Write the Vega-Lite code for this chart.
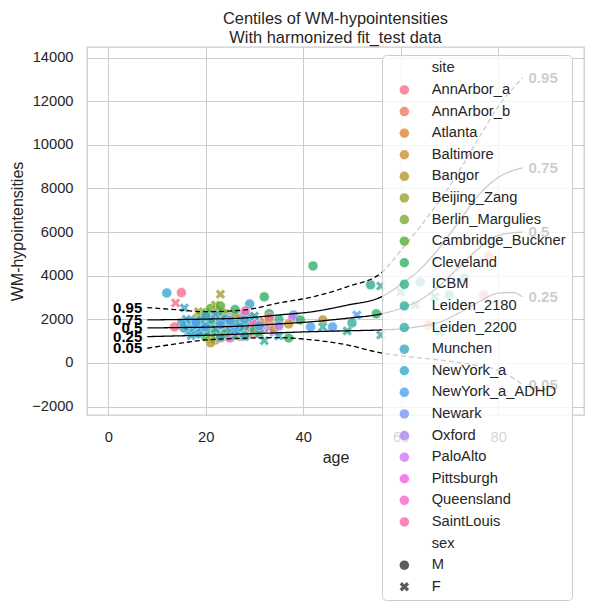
{
  "$schema": "https://vega.github.io/schema/vega-lite/v6.json",
  "autosize": {"type": "none"},
  "width": 497,
  "height": 368,
  "padding": {"left": 87, "top": 47, "right": 8, "bottom": 197},
  "background": "white",
  "title": {
    "text": ["Centiles of WM-hypointensities", "With harmonized fit_test data"],
    "font": "Liberation Sans",
    "fontSize": 16.4,
    "fontWeight": "normal",
    "color": "#262626",
    "anchor": "middle",
    "offset": 1,
    "lineHeight": 19
  },
  "config": {
    "view": {"stroke": "#cccccc", "strokeWidth": 1.3},
    "axis": {
      "grid": true,
      "gridColor": "#cccccc",
      "gridWidth": 1,
      "domain": false,
      "ticks": false,
      "labelPadding": 14,
      "labelFont": "Liberation Sans",
      "labelFontSize": 14.7,
      "labelColor": "#262626",
      "titleFont": "Liberation Sans",
      "titleFontSize": 16,
      "titleFontWeight": "normal",
      "titleColor": "#262626",
      "titlePadding": 6
    }
  },
  "datasets": {
    "curves": [
      {"q": "0.95", "age": 8, "wm": 2540}, {"q": "0.95", "age": 14, "wm": 2440}, {"q": "0.95", "age": 20, "wm": 2350},
      {"q": "0.95", "age": 28, "wm": 2430}, {"q": "0.95", "age": 35, "wm": 2750}, {"q": "0.95", "age": 42, "wm": 3030},
      {"q": "0.95", "age": 49, "wm": 3490}, {"q": "0.95", "age": 56, "wm": 4130}, {"q": "0.95", "age": 60, "wm": 5150},
      {"q": "0.95", "age": 64, "wm": 6250}, {"q": "0.95", "age": 68, "wm": 7450}, {"q": "0.95", "age": 72, "wm": 8800},
      {"q": "0.95", "age": 76, "wm": 10300}, {"q": "0.95", "age": 80, "wm": 11750}, {"q": "0.95", "age": 85, "wm": 13070},
      {"q": "0.75", "age": 8, "wm": 1970}, {"q": "0.75", "age": 14, "wm": 1990}, {"q": "0.75", "age": 20, "wm": 2010},
      {"q": "0.75", "age": 28, "wm": 2064}, {"q": "0.75", "age": 35, "wm": 2200}, {"q": "0.75", "age": 42, "wm": 2353},
      {"q": "0.75", "age": 49, "wm": 2650}, {"q": "0.75", "age": 56, "wm": 3030}, {"q": "0.75", "age": 60, "wm": 3600},
      {"q": "0.75", "age": 64, "wm": 4300}, {"q": "0.75", "age": 68, "wm": 5300}, {"q": "0.75", "age": 72, "wm": 6500},
      {"q": "0.75", "age": 76, "wm": 7700}, {"q": "0.75", "age": 80, "wm": 8500}, {"q": "0.75", "age": 85, "wm": 8945},
      {"q": "0.5", "age": 8, "wm": 1605}, {"q": "0.5", "age": 14, "wm": 1620}, {"q": "0.5", "age": 20, "wm": 1640},
      {"q": "0.5", "age": 28, "wm": 1697}, {"q": "0.5", "age": 35, "wm": 1790}, {"q": "0.5", "age": 42, "wm": 1894},
      {"q": "0.5", "age": 49, "wm": 2050}, {"q": "0.5", "age": 56, "wm": 2250}, {"q": "0.5", "age": 60, "wm": 2500},
      {"q": "0.5", "age": 64, "wm": 2890}, {"q": "0.5", "age": 68, "wm": 3550}, {"q": "0.5", "age": 72, "wm": 4400},
      {"q": "0.5", "age": 76, "wm": 5250}, {"q": "0.5", "age": 80, "wm": 5850}, {"q": "0.5", "age": 85, "wm": 6000},
      {"q": "0.25", "age": 8, "wm": 1206}, {"q": "0.25", "age": 14, "wm": 1240}, {"q": "0.25", "age": 20, "wm": 1270},
      {"q": "0.25", "age": 28, "wm": 1330}, {"q": "0.25", "age": 35, "wm": 1385}, {"q": "0.25", "age": 42, "wm": 1436},
      {"q": "0.25", "age": 49, "wm": 1475}, {"q": "0.25", "age": 56, "wm": 1514}, {"q": "0.25", "age": 60, "wm": 1560},
      {"q": "0.25", "age": 64, "wm": 1680}, {"q": "0.25", "age": 68, "wm": 1870}, {"q": "0.25", "age": 72, "wm": 2300},
      {"q": "0.25", "age": 76, "wm": 2800}, {"q": "0.25", "age": 80, "wm": 3200}, {"q": "0.25", "age": 83, "wm": 3230},
      {"q": "0.25", "age": 85, "wm": 3030},
      {"q": "0.05", "age": 8, "wm": 674}, {"q": "0.05", "age": 14, "wm": 880}, {"q": "0.05", "age": 20, "wm": 1055},
      {"q": "0.05", "age": 28, "wm": 1133}, {"q": "0.05", "age": 35, "wm": 1160}, {"q": "0.05", "age": 42, "wm": 1055},
      {"q": "0.05", "age": 49, "wm": 826}, {"q": "0.05", "age": 56, "wm": 459}, {"q": "0.05", "age": 60, "wm": 330},
      {"q": "0.05", "age": 64, "wm": 230}, {"q": "0.05", "age": 68, "wm": 138}, {"q": "0.05", "age": 72, "wm": 20},
      {"q": "0.05", "age": 76, "wm": -130}, {"q": "0.05", "age": 80, "wm": -330}, {"q": "0.05", "age": 82, "wm": -550},
      {"q": "0.05", "age": 85, "wm": -1000}
    ],
    "points": [
      {"age": 22, "wm": 1700, "site": "Pittsburgh", "sex": "M"},
      {"age": 23, "wm": 1900, "site": "Pittsburgh", "sex": "F"},
      {"age": 24, "wm": 1350, "site": "Pittsburgh", "sex": "F"},
      {"age": 25, "wm": 1600, "site": "Pittsburgh", "sex": "M"},
      {"age": 26, "wm": 2100, "site": "Pittsburgh", "sex": "F"},
      {"age": 27, "wm": 1450, "site": "Pittsburgh", "sex": "M"},
      {"age": 28, "wm": 1800, "site": "Pittsburgh", "sex": "M"},
      {"age": 23.5, "wm": 1200, "site": "Pittsburgh", "sex": "M"},
      {"age": 25.5, "wm": 1250, "site": "Pittsburgh", "sex": "F"},
      {"age": 27.5, "wm": 1650, "site": "Pittsburgh", "sex": "F"},
      {"age": 29, "wm": 1550, "site": "Pittsburgh", "sex": "M"},
      {"age": 24.5, "wm": 2050, "site": "Pittsburgh", "sex": "M"},
      {"age": 20, "wm": 1500, "site": "SaintLouis", "sex": "M"},
      {"age": 22, "wm": 2300, "site": "SaintLouis", "sex": "M"},
      {"age": 24, "wm": 1150, "site": "SaintLouis", "sex": "F"},
      {"age": 26, "wm": 2000, "site": "SaintLouis", "sex": "M"},
      {"age": 29, "wm": 1600, "site": "SaintLouis", "sex": "F"},
      {"age": 27, "wm": 2200, "site": "SaintLouis", "sex": "M"},
      {"age": 23, "wm": 1450, "site": "PaloAlto", "sex": "M"},
      {"age": 25, "wm": 1750, "site": "PaloAlto", "sex": "F"},
      {"age": 27, "wm": 1550, "site": "PaloAlto", "sex": "M"},
      {"age": 30, "wm": 1850, "site": "PaloAlto", "sex": "F"},
      {"age": 32, "wm": 1600, "site": "PaloAlto", "sex": "M"},
      {"age": 21, "wm": 1650, "site": "PaloAlto", "sex": "M"},
      {"age": 24, "wm": 1600, "site": "Oxford", "sex": "M"},
      {"age": 26, "wm": 1900, "site": "Oxford", "sex": "F"},
      {"age": 29, "wm": 1450, "site": "Oxford", "sex": "M"},
      {"age": 31, "wm": 1800, "site": "Oxford", "sex": "M"},
      {"age": 33, "wm": 1600, "site": "Oxford", "sex": "F"},
      {"age": 35, "wm": 1750, "site": "Oxford", "sex": "M"},
      {"age": 28, "wm": 2200, "site": "Oxford", "sex": "M"},
      {"age": 34, "wm": 1400, "site": "Oxford", "sex": "F"},
      {"age": 22, "wm": 1550, "site": "Newark", "sex": "M"},
      {"age": 24, "wm": 1850, "site": "Newark", "sex": "F"},
      {"age": 25, "wm": 1300, "site": "Newark", "sex": "M"},
      {"age": 27, "wm": 2050, "site": "Newark", "sex": "M"},
      {"age": 23, "wm": 1700, "site": "Newark", "sex": "M"},
      {"age": 17, "wm": 1850, "site": "AnnArbor_a", "sex": "M"},
      {"age": 18, "wm": 1450, "site": "AnnArbor_a", "sex": "F"},
      {"age": 19, "wm": 2100, "site": "AnnArbor_a", "sex": "M"},
      {"age": 21, "wm": 1600, "site": "AnnArbor_a", "sex": "M"},
      {"age": 26, "wm": 1500, "site": "AnnArbor_a", "sex": "F"},
      {"age": 23, "wm": 1600, "site": "AnnArbor_b", "sex": "M"},
      {"age": 25, "wm": 2200, "site": "AnnArbor_b", "sex": "F"},
      {"age": 28, "wm": 1400, "site": "AnnArbor_b", "sex": "M"},
      {"age": 30, "wm": 1950, "site": "AnnArbor_b", "sex": "M"},
      {"age": 31, "wm": 1600, "site": "AnnArbor_b", "sex": "F"},
      {"age": 24, "wm": 1750, "site": "Atlanta", "sex": "M"},
      {"age": 27, "wm": 2050, "site": "Atlanta", "sex": "F"},
      {"age": 30, "wm": 1650, "site": "Atlanta", "sex": "M"},
      {"age": 32, "wm": 1900, "site": "Atlanta", "sex": "F"},
      {"age": 34, "wm": 1550, "site": "Atlanta", "sex": "M"},
      {"age": 29, "wm": 1350, "site": "Atlanta", "sex": "M"},
      {"age": 22, "wm": 1900, "site": "Baltimore", "sex": "F"},
      {"age": 26, "wm": 1550, "site": "Baltimore", "sex": "M"},
      {"age": 29, "wm": 1800, "site": "Baltimore", "sex": "F"},
      {"age": 31, "wm": 1450, "site": "Baltimore", "sex": "M"},
      {"age": 33, "wm": 1950, "site": "Baltimore", "sex": "M"},
      {"age": 20, "wm": 1400, "site": "Bangor", "sex": "M"},
      {"age": 22, "wm": 1050, "site": "Bangor", "sex": "M"},
      {"age": 26, "wm": 1700, "site": "Bangor", "sex": "M"},
      {"age": 28, "wm": 1500, "site": "Bangor", "sex": "M"},
      {"age": 24, "wm": 2150, "site": "Bangor", "sex": "F"},
      {"age": 19, "wm": 1600, "site": "Beijing_Zang", "sex": "M"},
      {"age": 20, "wm": 1250, "site": "Beijing_Zang", "sex": "F"},
      {"age": 21, "wm": 2100, "site": "Beijing_Zang", "sex": "M"},
      {"age": 22, "wm": 1700, "site": "Beijing_Zang", "sex": "F"},
      {"age": 23, "wm": 1450, "site": "Beijing_Zang", "sex": "M"},
      {"age": 24, "wm": 2250, "site": "Beijing_Zang", "sex": "F"},
      {"age": 25, "wm": 1900, "site": "Beijing_Zang", "sex": "M"},
      {"age": 18.5, "wm": 2350, "site": "Beijing_Zang", "sex": "F"},
      {"age": 21.5, "wm": 1150, "site": "Beijing_Zang", "sex": "M"},
      {"age": 24, "wm": 1350, "site": "Beijing_Zang", "sex": "F"},
      {"age": 20, "wm": 1900, "site": "Beijing_Zang", "sex": "M"},
      {"age": 19, "wm": 2150, "site": "Berlin_Margulies", "sex": "F"},
      {"age": 20, "wm": 1500, "site": "Berlin_Margulies", "sex": "M"},
      {"age": 21, "wm": 1750, "site": "Berlin_Margulies", "sex": "F"},
      {"age": 23, "wm": 1300, "site": "Berlin_Margulies", "sex": "M"},
      {"age": 24, "wm": 1950, "site": "Berlin_Margulies", "sex": "F"},
      {"age": 25, "wm": 1600, "site": "Berlin_Margulies", "sex": "M"},
      {"age": 26, "wm": 2250, "site": "Berlin_Margulies", "sex": "F"},
      {"age": 22, "wm": 1850, "site": "Berlin_Margulies", "sex": "M"},
      {"age": 27, "wm": 1400, "site": "Berlin_Margulies", "sex": "M"},
      {"age": 20.5, "wm": 2000, "site": "Berlin_Margulies", "sex": "M"},
      {"age": 18, "wm": 1600, "site": "Berlin_Margulies", "sex": "M"},
      {"age": 23.5, "wm": 2300, "site": "Berlin_Margulies", "sex": "M"},
      {"age": 18.5, "wm": 1700, "site": "Cambridge_Buckner", "sex": "M"},
      {"age": 19, "wm": 1900, "site": "Cambridge_Buckner", "sex": "F"},
      {"age": 19.5, "wm": 1550, "site": "Cambridge_Buckner", "sex": "M"},
      {"age": 20, "wm": 2050, "site": "Cambridge_Buckner", "sex": "F"},
      {"age": 20.5, "wm": 1800, "site": "Cambridge_Buckner", "sex": "M"},
      {"age": 21, "wm": 1450, "site": "Cambridge_Buckner", "sex": "F"},
      {"age": 21, "wm": 2200, "site": "Cambridge_Buckner", "sex": "M"},
      {"age": 21.5, "wm": 1650, "site": "Cambridge_Buckner", "sex": "M"},
      {"age": 22, "wm": 1950, "site": "Cambridge_Buckner", "sex": "F"},
      {"age": 22, "wm": 1350, "site": "Cambridge_Buckner", "sex": "F"},
      {"age": 22.5, "wm": 1750, "site": "Cambridge_Buckner", "sex": "M"},
      {"age": 23, "wm": 2100, "site": "Cambridge_Buckner", "sex": "M"},
      {"age": 23, "wm": 1500, "site": "Cambridge_Buckner", "sex": "F"},
      {"age": 19, "wm": 1300, "site": "Cambridge_Buckner", "sex": "F"},
      {"age": 20, "wm": 2300, "site": "Cambridge_Buckner", "sex": "M"},
      {"age": 18, "wm": 2000, "site": "Cambridge_Buckner", "sex": "F"},
      {"age": 20.5, "wm": 1600, "site": "Cambridge_Buckner", "sex": "F"},
      {"age": 21.5, "wm": 1900, "site": "Cambridge_Buckner", "sex": "F"},
      {"age": 22.5, "wm": 2350, "site": "Cambridge_Buckner", "sex": "M"},
      {"age": 23.5, "wm": 1800, "site": "Cambridge_Buckner", "sex": "F"},
      {"age": 19.5, "wm": 1750, "site": "Cambridge_Buckner", "sex": "M"},
      {"age": 18.5, "wm": 1450, "site": "Cambridge_Buckner", "sex": "F"},
      {"age": 24, "wm": 1650, "site": "Cambridge_Buckner", "sex": "M"},
      {"age": 20, "wm": 1200, "site": "Cambridge_Buckner", "sex": "M"},
      {"age": 22, "wm": 1100, "site": "Cambridge_Buckner", "sex": "F"},
      {"age": 17.5, "wm": 1800, "site": "Cambridge_Buckner", "sex": "M"},
      {"age": 24.5, "wm": 2000, "site": "Cambridge_Buckner", "sex": "M"},
      {"age": 21, "wm": 2500, "site": "Cambridge_Buckner", "sex": "M"},
      {"age": 22.5, "wm": 1550, "site": "Queensland", "sex": "F"},
      {"age": 23.5, "wm": 1800, "site": "Queensland", "sex": "M"},
      {"age": 24.5, "wm": 1650, "site": "Queensland", "sex": "M"},
      {"age": 25.5, "wm": 1400, "site": "Queensland", "sex": "F"},
      {"age": 26.5, "wm": 1850, "site": "Queensland", "sex": "M"},
      {"age": 27.5, "wm": 1200, "site": "Queensland", "sex": "F"},
      {"age": 28.5, "wm": 1650, "site": "Queensland", "sex": "M"},
      {"age": 23, "wm": 1250, "site": "Queensland", "sex": "M"},
      {"age": 24.5, "wm": 2000, "site": "Queensland", "sex": "F"},
      {"age": 27, "wm": 1550, "site": "Queensland", "sex": "F"},
      {"age": 29.5, "wm": 1850, "site": "Queensland", "sex": "M"},
      {"age": 30.5, "wm": 1300, "site": "Queensland", "sex": "F"},
      {"age": 25, "wm": 1150, "site": "Queensland", "sex": "M"},
      {"age": 23, "wm": 1150, "site": "Queensland", "sex": "M"},
      {"age": 24, "wm": 1350, "site": "Cleveland", "sex": "M"},
      {"age": 27, "wm": 1900, "site": "Cleveland", "sex": "F"},
      {"age": 30, "wm": 1500, "site": "Cleveland", "sex": "M"},
      {"age": 33, "wm": 2250, "site": "Cleveland", "sex": "M"},
      {"age": 26, "wm": 2450, "site": "Cleveland", "sex": "M"},
      {"age": 20, "wm": 1750, "site": "ICBM", "sex": "F"},
      {"age": 22, "wm": 1450, "site": "ICBM", "sex": "M"},
      {"age": 24, "wm": 2050, "site": "ICBM", "sex": "M"},
      {"age": 26, "wm": 1250, "site": "ICBM", "sex": "F"},
      {"age": 28, "wm": 1700, "site": "ICBM", "sex": "M"},
      {"age": 31, "wm": 1350, "site": "ICBM", "sex": "F"},
      {"age": 35, "wm": 2000, "site": "ICBM", "sex": "M"},
      {"age": 19, "wm": 1550, "site": "ICBM", "sex": "M"},
      {"age": 18, "wm": 1650, "site": "Leiden_2180", "sex": "F"},
      {"age": 19, "wm": 1950, "site": "Leiden_2180", "sex": "M"},
      {"age": 20, "wm": 1450, "site": "Leiden_2180", "sex": "M"},
      {"age": 21, "wm": 1800, "site": "Leiden_2180", "sex": "F"},
      {"age": 23, "wm": 1200, "site": "Leiden_2180", "sex": "M"},
      {"age": 24, "wm": 1950, "site": "Leiden_2180", "sex": "F"},
      {"age": 27, "wm": 1500, "site": "Leiden_2180", "sex": "F"},
      {"age": 29, "wm": 2100, "site": "Leiden_2180", "sex": "M"},
      {"age": 17, "wm": 1700, "site": "Leiden_2200", "sex": "M"},
      {"age": 19, "wm": 1350, "site": "Leiden_2200", "sex": "F"},
      {"age": 21, "wm": 2000, "site": "Leiden_2200", "sex": "M"},
      {"age": 22, "wm": 1550, "site": "Leiden_2200", "sex": "F"},
      {"age": 25, "wm": 1750, "site": "Leiden_2200", "sex": "M"},
      {"age": 28, "wm": 1200, "site": "Leiden_2200", "sex": "F"},
      {"age": 23, "wm": 1900, "site": "Munchen", "sex": "M"},
      {"age": 25, "wm": 1450, "site": "Munchen", "sex": "F"},
      {"age": 26, "wm": 1800, "site": "Munchen", "sex": "M"},
      {"age": 28, "wm": 1250, "site": "Munchen", "sex": "M"},
      {"age": 30, "wm": 2150, "site": "Munchen", "sex": "F"},
      {"age": 17, "wm": 1500, "site": "Munchen", "sex": "M"},
      {"age": 16, "wm": 1700, "site": "NewYork_a", "sex": "M"},
      {"age": 16.5, "wm": 1450, "site": "NewYork_a", "sex": "F"},
      {"age": 17, "wm": 1900, "site": "NewYork_a", "sex": "M"},
      {"age": 17.5, "wm": 1550, "site": "NewYork_a", "sex": "F"},
      {"age": 18, "wm": 1750, "site": "NewYork_a", "sex": "M"},
      {"age": 15.5, "wm": 1600, "site": "NewYork_a", "sex": "M"},
      {"age": 16, "wm": 2000, "site": "NewYork_a", "sex": "F"},
      {"age": 18.5, "wm": 1350, "site": "NewYork_a", "sex": "M"},
      {"age": 17, "wm": 1250, "site": "NewYork_a", "sex": "F"},
      {"age": 19, "wm": 1600, "site": "NewYork_a", "sex": "F"},
      {"age": 24, "wm": 2000, "site": "NewYork_a", "sex": "M"},
      {"age": 27, "wm": 1650, "site": "NewYork_a", "sex": "M"},
      {"age": 15, "wm": 1800, "site": "NewYork_a", "sex": "M"},
      {"age": 20, "wm": 2150, "site": "NewYork_a", "sex": "M"},
      {"age": 18, "wm": 1850, "site": "NewYork_a_ADHD", "sex": "M"},
      {"age": 20, "wm": 1650, "site": "NewYork_a_ADHD", "sex": "M"},
      {"age": 22, "wm": 2200, "site": "NewYork_a_ADHD", "sex": "F"},
      {"age": 23, "wm": 1750, "site": "NewYork_a_ADHD", "sex": "M"},
      {"age": 25, "wm": 1950, "site": "NewYork_a_ADHD", "sex": "M"},
      {"age": 26, "wm": 1500, "site": "NewYork_a_ADHD", "sex": "F"},
      {"age": 28, "wm": 2000, "site": "NewYork_a_ADHD", "sex": "M"},
      {"age": 31, "wm": 1700, "site": "NewYork_a_ADHD", "sex": "M"},
      {"age": 12, "wm": 3210, "site": "NewYork_a", "sex": "M"},
      {"age": 15, "wm": 3225, "site": "AnnArbor_a", "sex": "M"},
      {"age": 13.8, "wm": 2750, "site": "AnnArbor_a", "sex": "F"},
      {"age": 15.6, "wm": 2520, "site": "NewYork_a", "sex": "F"},
      {"age": 13.6, "wm": 1650, "site": "AnnArbor_a", "sex": "M"},
      {"age": 23, "wm": 3150, "site": "Beijing_Zang", "sex": "F"},
      {"age": 22, "wm": 2660, "site": "Beijing_Zang", "sex": "F"},
      {"age": 23, "wm": 2615, "site": "Cambridge_Buckner", "sex": "M"},
      {"age": 29, "wm": 2700, "site": "NewYork_a", "sex": "M"},
      {"age": 32, "wm": 3030, "site": "Cleveland", "sex": "M"},
      {"age": 28.1, "wm": 2385, "site": "SaintLouis", "sex": "M"},
      {"age": 33, "wm": 2080, "site": "AnnArbor_a", "sex": "M"},
      {"age": 32, "wm": 1023, "site": "Leiden_2180", "sex": "F"},
      {"age": 37, "wm": 1147, "site": "Cleveland", "sex": "M"},
      {"age": 21, "wm": 930, "site": "Bangor", "sex": "M"},
      {"age": 42, "wm": 4450, "site": "Cleveland", "sex": "M"},
      {"age": 53.8, "wm": 3580, "site": "ICBM", "sex": "M"},
      {"age": 55.9, "wm": 3530, "site": "Leiden_2200", "sex": "F"},
      {"age": 55, "wm": 2250, "site": "Cleveland", "sex": "M"},
      {"age": 51, "wm": 2200, "site": "NewYork_a_ADHD", "sex": "F"},
      {"age": 50, "wm": 1835, "site": "Leiden_2180", "sex": "M"},
      {"age": 49, "wm": 1470, "site": "Leiden_2180", "sex": "F"},
      {"age": 41.5, "wm": 1650, "site": "NewYork_a_ADHD", "sex": "M"},
      {"age": 46, "wm": 1650, "site": "NewYork_a_ADHD", "sex": "M"},
      {"age": 44, "wm": 1970, "site": "Bangor", "sex": "M"},
      {"age": 44, "wm": 1650, "site": "Leiden_2200", "sex": "F"},
      {"age": 38, "wm": 2200, "site": "NewYork_a_ADHD", "sex": "M"},
      {"age": 37.8, "wm": 2060, "site": "PaloAlto", "sex": "M"},
      {"age": 39.4, "wm": 1970, "site": "Cleveland", "sex": "M"},
      {"age": 37, "wm": 1790, "site": "Baltimore", "sex": "M"},
      {"age": 35, "wm": 1700, "site": "Oxford", "sex": "M"},
      {"age": 35, "wm": 1240, "site": "Leiden_2200", "sex": "F"},
      {"age": 55.9, "wm": 1285, "site": "Leiden_2200", "sex": "F"},
      {"age": 78, "wm": 4900, "site": "AnnArbor_b", "sex": "M"},
      {"age": 64, "wm": 3715, "site": "Munchen", "sex": "M"},
      {"age": 73, "wm": 3900, "site": "NewYork_a", "sex": "M"},
      {"age": 60, "wm": 3257, "site": "Leiden_2180", "sex": "F"},
      {"age": 63, "wm": 2660, "site": "Leiden_2180", "sex": "F"},
      {"age": 67, "wm": 3030, "site": "ICBM", "sex": "F"},
      {"age": 70, "wm": 3120, "site": "ICBM", "sex": "M"},
      {"age": 77, "wm": 3120, "site": "SaintLouis", "sex": "M"},
      {"age": 65.7, "wm": 1743, "site": "AnnArbor_b", "sex": "M"},
      {"age": 68, "wm": 1422, "site": "Leiden_2200", "sex": "F"}
    ]
  },
  "encoding": {
    "x": {
      "field": "age",
      "type": "quantitative",
      "title": "age",
      "scale": {"domain": [-4.37, 97.6], "nice": false, "zero": false},
      "axis": {"values": [0, 20, 40, 60, 80]}
    },
    "y": {
      "field": "wm",
      "type": "quantitative",
      "title": "WM-hypointensities",
      "scale": {"domain": [-2385, 14482], "nice": false, "zero": false},
      "axis": {"values": [-2000, 0, 2000, 4000, 6000, 8000, 10000, 12000, 14000], "format": "d"}
    }
  },
  "layer": [
    {
      "data": {"name": "points"},
      "mark": {"type": "point", "filled": true, "size": 100, "opacity": 0.8, "stroke": "white", "strokeWidth": 0.5},
      "encoding": {
        "color": {
          "field": "site",
          "type": "nominal",
          "scale": {
            "domain": ["site", "AnnArbor_a", "AnnArbor_b", "Atlanta", "Baltimore", "Bangor", "Beijing_Zang", "Berlin_Margulies", "Cambridge_Buckner", "Cleveland", "ICBM", "Leiden_2180", "Leiden_2200", "Munchen", "NewYork_a", "NewYork_a_ADHD", "Newark", "Oxford", "PaloAlto", "Pittsburgh", "Queensland", "SaintLouis", "sex", "M", "F"],
            "range": ["transparent", "#f77189", "#f67a57", "#de8833", "#c79332", "#b39a31", "#9ca231", "#80a931", "#58ae31", "#33b06a", "#34af89", "#35ae9b", "#36acad", "#37aabc", "#39a7cd", "#4ea2ee", "#7e97f4", "#ad89f4", "#d177f4", "#ef64e7", "#f565ca", "#f66ba9", "transparent", "#333333", "#333333"]
          },
          "legend": {
            "title": null,
            "orient": "none",
            "legendX": 295,
            "legendY": 8,
            "fillColor": "rgba(255,255,255,0.8)",
            "strokeColor": "#cccccc",
            "cornerRadius": 4,
            "padding": 6,
            "labelFont": "Liberation Sans",
            "labelFontSize": 14.7,
            "labelColor": "#262626",
            "labelLimit": 300,
            "symbolSize": 90,
            "symbolOpacity": 0.8,
            "symbolStrokeWidth": 0,
            "rowPadding": 5.6,
            "symbolOffset": 9,
            "labelOffset": 20,
            "symbolType": {"expr": "datum.value === 'F' ? 'M-1,-0.5L-0.5,-1L0,-0.5L0.5,-1L1,-0.5L0.5,0L1,0.5L0.5,1L0,0.5L-0.5,1L-1,0.5L-0.5,0Z' : 'circle'"}
          }
        },
        "shape": {
          "field": "sex",
          "type": "nominal",
          "scale": {"domain": ["M", "F"], "range": ["circle", "M-1,-0.5L-0.5,-1L0,-0.5L0.5,-1L1,-0.5L0.5,0L1,0.5L0.5,1L0,0.5L-0.5,1L-1,0.5L-0.5,0Z"]},
          "legend": null
        }
      }
    },
    {
      "data": {"name": "curves"},
      "mark": {"type": "line", "interpolate": "monotone", "color": "black"},
      "encoding": {
        "detail": {"field": "q", "type": "nominal"},
        "strokeWidth": {
          "field": "q",
          "type": "nominal",
          "scale": {"domain": ["0.05", "0.25", "0.5", "0.75", "0.95"], "range": [1.3, 1.3, 2.6, 1.3, 1.3]},
          "legend": null
        },
        "strokeDash": {
          "field": "q",
          "type": "nominal",
          "scale": {"domain": ["0.05", "0.25", "0.5", "0.75", "0.95"], "range": [[5, 3], [1, 0], [1, 0], [1, 0], [5, 3]]},
          "legend": null
        }
      }
    },
    {
      "data": {"name": "curves"},
      "transform": [
        {"joinaggregate": [{"op": "min", "field": "age", "as": "amin"}], "groupby": ["q"]},
        {"filter": "datum.age == datum.amin"}
      ],
      "mark": {"type": "text", "align": "right", "baseline": "middle", "dx": -5, "font": "Liberation Sans", "fontSize": 15, "fontWeight": "bold", "color": "black"},
      "encoding": {"text": {"field": "q"}}
    },
    {
      "data": {"name": "curves"},
      "transform": [
        {"joinaggregate": [{"op": "max", "field": "age", "as": "amax"}], "groupby": ["q"]},
        {"filter": "datum.age == datum.amax"}
      ],
      "mark": {"type": "text", "align": "left", "baseline": "middle", "dx": 6, "font": "Liberation Sans", "fontSize": 15, "fontWeight": "bold", "color": "black"},
      "encoding": {"text": {"field": "q"}}
    }
  ]
}
